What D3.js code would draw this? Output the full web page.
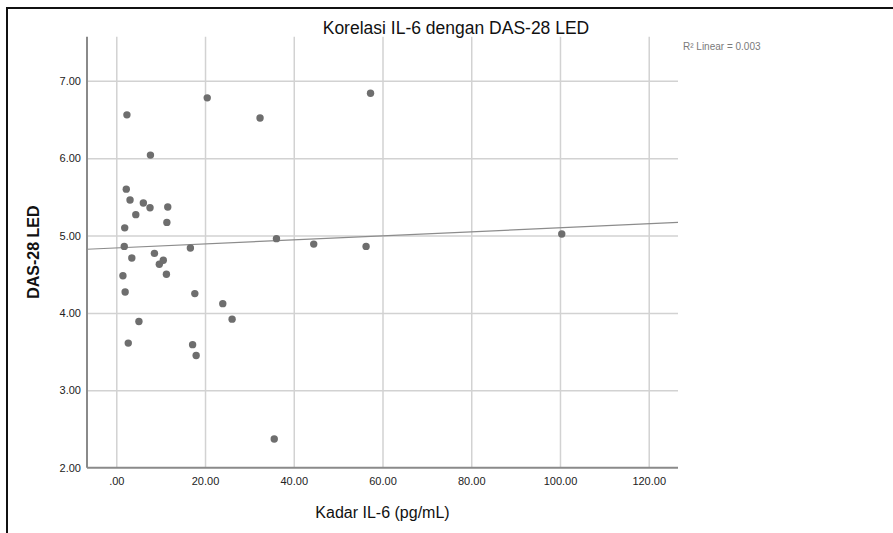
<!DOCTYPE html>
<html><head><meta charset="utf-8">
<script src="https://cdn.jsdelivr.net/npm/d3@7"></script>
<style>
html,body{margin:0;padding:0;background:#fff;}
svg{display:block;font-family:"Liberation Sans",Arial,sans-serif;}
</style></head>
<body>
<script>
// Data
const il6 = [2.4, 20.5, 32.4, 7.7, 2.25, 3.1, 6.1, 7.6, 11.6, 4.4, 11.4, 1.9, 1.8, 3.5, 8.6, 9.7, 10.6, 11.3, 1.5, 2.0, 16.7, 17.7, 24.0, 26.1, 5.1, 2.7, 17.2, 18.0, 36.1, 35.6, 44.5, 56.3, 100.4, 57.3];
const das28 = [6.56, 6.78, 6.52, 6.04, 5.60, 5.46, 5.42, 5.36, 5.37, 5.27, 5.17, 5.10, 4.86, 4.71, 4.77, 4.63, 4.68, 4.50, 4.48, 4.27, 4.84, 4.25, 4.12, 3.92, 3.89, 3.61, 3.59, 3.45, 4.96, 2.37, 4.89, 4.86, 5.02, 6.84];
const xTicks = [0, 20, 40, 60, 80, 100, 120];
const xTickLabels = [".00", "20.00", "40.00", "60.00", "80.00", "100.00", "120.00"];
const yTicks = [2, 3, 4, 5, 6, 7];
const yTickLabels = ["2.00", "3.00", "4.00", "5.00", "6.00", "7.00"];
const fitIntercept = 4.84;
const fitSlope = 0.0026;
const r2Label = "R\u00B2 Linear = 0.003";
const titleText = "Korelasi IL-6 dengan DAS-28 LED";
const xTitle = "Kadar IL-6 (pg/mL)";
const yTitle = "DAS-28 LED";

const W = 893, H = 533;
const L = 87, R = 678, T = 36.7, B = 467.7;

const svg = d3.select("body").append("svg").attr("width", W).attr("height", H);

// frame
svg.append("line").attr("x1", 6).attr("x2", W).attr("y1", 8).attr("y2", 8)
  .attr("stroke", "#111").attr("stroke-width", 2);
svg.append("line").attr("x1", 7).attr("x2", 7).attr("y1", 7).attr("y2", H)
  .attr("stroke", "#111").attr("stroke-width", 2);

const x = d3.scaleLinear().domain([-6.6, 126.6]).range([L, R]);
const y = d3.scaleLinear().domain([2, 7.57]).range([B, T]);

// gridlines
const gx = svg.append("g").attr("transform", `translate(0,${B})`)
  .call(d3.axisBottom(x).tickValues(xTicks).tickSize(-(B - T)).tickFormat((d, i) => xTickLabels[i]).tickPadding(7));
gx.select(".domain").remove();
gx.selectAll(".tick line").attr("stroke", "#d2d2d2").attr("stroke-width", 1.5);
gx.selectAll(".tick text").attr("font-size", 11).attr("fill", "#222")
  .attr("font-family", "Liberation Sans, Arial, sans-serif").attr("dy", "0.9em");

const gy = svg.append("g").attr("transform", `translate(${L},0)`)
  .call(d3.axisLeft(y).tickValues(yTicks).tickSize(-(R - L)).tickFormat((d, i) => yTickLabels[i]).tickPadding(6));
gy.select(".domain").remove();
gy.selectAll(".tick line").attr("stroke", (d) => d === 2 ? "none" : "#d2d2d2").attr("stroke-width", 1.5);
gy.selectAll(".tick text").attr("font-size", 11).attr("fill", "#222")
  .attr("font-family", "Liberation Sans, Arial, sans-serif");

// axis lines
svg.append("line").attr("x1", L).attr("x2", L).attr("y1", T).attr("y2", B)
  .attr("stroke", "#8a8a8a").attr("stroke-width", 2);
svg.append("line").attr("x1", L).attr("x2", R).attr("y1", B).attr("y2", B)
  .attr("stroke", "#8a8a8a").attr("stroke-width", 2);

// fit line
const xd = x.domain();
svg.append("line")
  .attr("x1", x(xd[0])).attr("y1", y(fitIntercept + fitSlope * xd[0]))
  .attr("x2", x(xd[1])).attr("y2", y(fitIntercept + fitSlope * xd[1]))
  .attr("stroke", "#8c8c8c").attr("stroke-width", 1.2);

// points
svg.append("g").selectAll("circle").data(il6.map((v, i) => [v, das28[i]])).join("circle")
  .attr("cx", d => x(d[0])).attr("cy", d => y(d[1])).attr("r", 3.7)
  .attr("fill", "#6e6e6e");

// texts
svg.append("text").attr("x", 456).attr("y", 34).attr("text-anchor", "middle")
  .attr("font-size", 17.5).attr("fill", "#111").text(titleText);
svg.append("text").attr("x", 683).attr("y", 50).attr("font-size", 10)
  .attr("fill", "#7a7a7a").text(r2Label);
svg.append("text").attr("x", (L + R) / 2).attr("y", 518).attr("text-anchor", "middle")
  .attr("font-size", 16).attr("fill", "#111").text(xTitle);
svg.append("text").attr("transform", `translate(39,${(T + B) / 2}) rotate(-90)`)
  .attr("text-anchor", "middle").attr("font-size", 16).attr("font-weight", "bold")
  .attr("fill", "#111").text(yTitle);
</script>
</body></html>
